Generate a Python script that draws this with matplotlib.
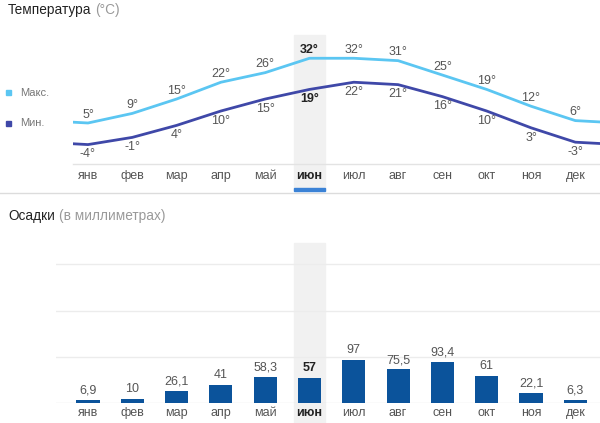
import matplotlib
matplotlib.use("Agg")
import matplotlib.pyplot as plt
from matplotlib.patches import Rectangle
from matplotlib.transforms import blended_transform_factory
import numpy as np

plt.rcParams['font.family'] = ['Liberation Sans', 'DejaVu Sans']

months = ["янв", "фев", "мар", "апр", "май", "июн", "июл", "авг", "сен", "окт", "ноя", "дек"]
t_max = [5, 9, 15, 22, 26, 32, 32, 31, 25, 19, 12, 6]
t_min = [-4, -1, 4, 10, 15, 19, 22, 21, 16, 10, 3, -3]
precip = [6.9, 10, 26.1, 41, 58.3, 57, 97, 75.5, 93.4, 61, 22.1, 6.3]
precip_labels = ["6,9", "10", "26,1", "41", "58,3", "57", "97", "75,5", "93,4", "61", "22,1", "6,3"]
highlight = 5  # июн
grid_vals = [104, 208, 312]

C_MAX = "#5bc6f2"
C_MIN = "#3f48a8"
C_BAR = "#0b539b"
C_TXT = "#555555"
C_BAND = "#f1f1f1"

W, H = 600, 423
fig = plt.figure(figsize=(6, 4.23), dpi=100)

def px_axes(x0, y0, x1, y1):
    a = fig.add_axes([x0 / W, 1 - y1 / H, (x1 - x0) / W, (y1 - y0) / H])
    a.patch.set_alpha(0)
    return a

step = 44.3
x_first = 88

# ---------- Temperature ----------
ax = px_axes(73, 35, 600, 164)
ax.set_xlim((73 - x_first) / step, (600 - x_first) / step)
ax.set_ylim(-12.1, 41.7)
ax.axis("off")

xs = np.arange(len(months))
xe = np.concatenate([[-1], xs, [12]])
ymax_e = [t_max[-1]] + t_max + [t_max[0]]
ymin_e = [t_min[-1]] + t_min + [t_min[0]]

tr = blended_transform_factory(ax.transData, fig.transFigure)
fig.patches.append(Rectangle((highlight - 0.34, 1 - 190 / H), 0.68, (190 - 35) / H,
                             transform=tr, color=C_BAND, zorder=-5))

ax.plot(xe, ymax_e, color=C_MAX, lw=2, zorder=3)
ax.plot(xe, ymin_e, color=C_MIN, lw=2, zorder=3)
for i in xs:
    bold = "bold" if i == highlight else "normal"
    col = "#222222" if i == highlight else C_TXT
    ax.annotate(f"{t_max[i]}°", (i, t_max[i]), xytext=(0, 6), textcoords="offset points",
                ha="center", va="center", fontsize=9, color=col, fontweight=bold)
    ax.annotate(f"{t_min[i]}°", (i, t_min[i]), xytext=(0, -7), textcoords="offset points",
                ha="center", va="center", fontsize=9, color=col, fontweight=bold)

# axis line and month labels (top)
ax.plot([ax.get_xlim()[0], ax.get_xlim()[1]], [ax.get_ylim()[0]] * 2, color="#e3e3e3",
        lw=1, clip_on=False)
for i, m in enumerate(months):
    bold = "bold" if i == highlight else "normal"
    col = "#222222" if i == highlight else C_TXT
    ax.text(i, 1 - 176 / H, m, transform=tr, ha="center", va="center", fontsize=9,
            color=col, fontweight=bold)
fig.patches.append(Rectangle((highlight - 0.34, 1 - 191.5 / H), 0.68, 3 / H,
                             transform=tr, color="#3b82d6", zorder=3))

# separator
fig.add_artist(plt.Line2D([0, 1], [1 - 193.5 / H] * 2, color="#dcdcdc", lw=1))

# titles
t1 = fig.text(8 / W, 1 - 10 / H, "Температура", fontsize=9.8, color="#222222", va="center")
t2 = fig.text(8 / W, 1 - 216 / H, "Осадки", fontsize=9.8, color="#222222", va="center")
fig.canvas.draw()
r = fig.canvas.get_renderer()
e1 = t1.get_window_extent(r)
e2 = t2.get_window_extent(r)
fig.text(e1.x1 / W + 4 / W, 1 - 10 / H, "(°C)", fontsize=9.8, color="#999999", va="center")
fig.text(e2.x1 / W + 4 / W, 1 - 216 / H, "(в миллиметрах)", fontsize=9.8, color="#999999",
         va="center")

# legend
fig.patches.append(Rectangle((6 / W, 1 - 95 / H), 5 / W, 5 / H, transform=fig.transFigure,
                             color=C_MAX))
fig.text(20 / W, 1 - 92.5 / H, "Макс.", fontsize=8, color="#777777", va="center")
fig.patches.append(Rectangle((6 / W, 1 - 126 / H), 5 / W, 5 / H, transform=fig.transFigure,
                             color=C_MIN))
fig.text(20 / W, 1 - 123.5 / H, "Мин.", fontsize=8, color="#777777", va="center")

# ---------- Precipitation ----------
bx = px_axes(56, 243, 600, 403)
bx.set_xlim((56 - x_first) / step, (600 - x_first) / step)
bx.set_ylim(0, 160 / 0.444)
for s in bx.spines.values():
    s.set_visible(False)
bx.set_yticks([])
bx.set_xticks([])
trb = blended_transform_factory(bx.transData, fig.transFigure)
fig.patches.append(Rectangle((highlight - 0.34, 0), 0.68, 1 - 243 / H,
                             transform=trb, color=C_BAND, zorder=-5))
for g in grid_vals:
    bx.axhline(g, color="#ececec", lw=1, zorder=1)
bx.axhline(0, color="#e6e6e6", lw=1, zorder=1)

bx.bar(xs, precip, width=0.52, color=C_BAR, zorder=3)
for i in xs:
    bold = "bold" if i == highlight else "normal"
    col = "#222222" if i == highlight else C_TXT
    bx.annotate(precip_labels[i], (i, precip[i]), xytext=(0, 2.5), textcoords="offset points",
                ha="center", va="bottom", fontsize=9, color=col, fontweight=bold)
    bx.text(i, 1 - 413 / H, months[i], transform=trb, ha="center", va="center", fontsize=9,
            color=col, fontweight=bold)

fig.savefig("out.png", dpi=100)
